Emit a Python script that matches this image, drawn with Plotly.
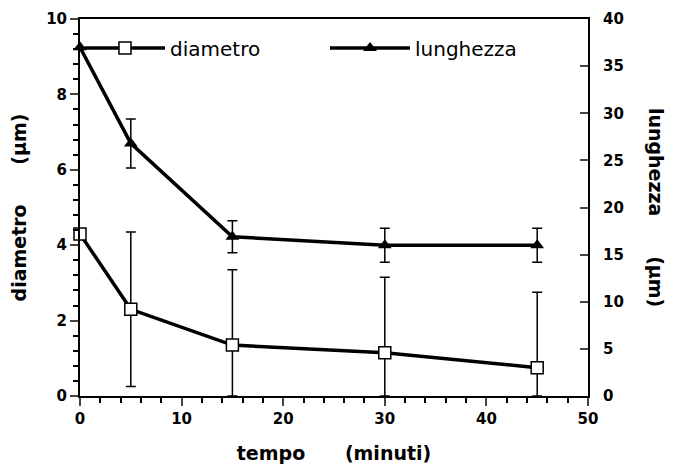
import plotly.graph_objects as go

tempo = [0, 5, 15, 30, 45]
diametro = [4.3, 2.3, 1.35, 1.15, 0.75]
diametro_err = [0, 2.05, 2.0, 2.0, 2.0]
lunghezza = [37.0, 26.8, 16.9, 16.0, 16.0]
lunghezza_err = [0, 2.6, 1.7, 1.8, 1.8]

FONT = "DejaVu Sans, Liberation Sans, Arial, sans-serif"

fig = go.Figure()
fig.add_trace(go.Scatter(
    x=tempo, y=diametro, name="diametro", mode="lines+markers",
    line=dict(color="black", width=3.5),
    marker=dict(symbol="square", size=12, color="white", line=dict(color="black", width=1.5)),
    error_y=dict(type="data", array=diametro_err,
                 arrayminus=[min(e, v) for e, v in zip(diametro_err, diametro)],
                 color="black", thickness=1.5, width=5),
    cliponaxis=False, yaxis="y"))
fig.add_trace(go.Scatter(
    x=tempo, y=lunghezza, name="lunghezza", mode="lines+markers",
    line=dict(color="black", width=3.5),
    marker=dict(symbol="triangle-up", size=12, color="black"),
    error_y=dict(type="data", array=lunghezza_err, color="black", thickness=1.5, width=5),
    cliponaxis=False, yaxis="y2"))

tickfont = dict(family=FONT, size=15, color="black", weight="bold")
titlefont = dict(family=FONT, size=19, color="black")

fig.update_layout(
    width=679, height=471,
    margin=dict(l=72, r=99, t=11, b=83),
    paper_bgcolor="white", plot_bgcolor="white",
    showlegend=True,
    legend=dict(orientation="h", x=0.0, y=0.975, xanchor="left", yanchor="top",
                font=dict(family=FONT, size=20, color="black"),
                bgcolor="rgba(0,0,0,0)", itemwidth=80, entrywidth=150, entrywidthmode="pixels"),
    xaxis=dict(range=[0, 50], tick0=0, dtick=10, ticks="outside", ticklen=8, tickwidth=2,
               showline=True, linecolor="black", linewidth=2, mirror=True,
               showgrid=False, zeroline=False, tickfont=tickfont, automargin=False,
               minor=dict(dtick=2, ticks="outside", ticklen=5, tickwidth=1.5, tickcolor="black"),
               title=dict(text="<b>tempo      (minuti)</b>", font=titlefont, standoff=20)),
    yaxis=dict(range=[0, 10], tick0=0, dtick=2, ticks="outside", ticklen=8, tickwidth=2,
               showline=True, linecolor="black", linewidth=2, automargin=False,
               showgrid=False, zeroline=False, tickfont=tickfont,
               minor=dict(dtick=0.4, ticks="outside", ticklen=5, tickwidth=1.5, tickcolor="black"),
               title=dict(text="<b>diametro      (µm)</b>", font=titlefont, standoff=16)),
    yaxis2=dict(range=[0, 40], tick0=0, dtick=5, overlaying="y", side="right",
                ticks="inside", ticklen=8, tickwidth=2, automargin=False,
                ticklabelstandoff=10,
                showline=True, linecolor="black", linewidth=2,
                showgrid=False, zeroline=False, tickfont=tickfont),
)

fig.add_annotation(text="<b>lunghezza      (µm)</b>", xref="paper", yref="paper",
                   x=1.135, y=0.5, textangle=90, showarrow=False,
                   font=titlefont, xanchor="center", yanchor="middle")

fig.write_html("out.html")
